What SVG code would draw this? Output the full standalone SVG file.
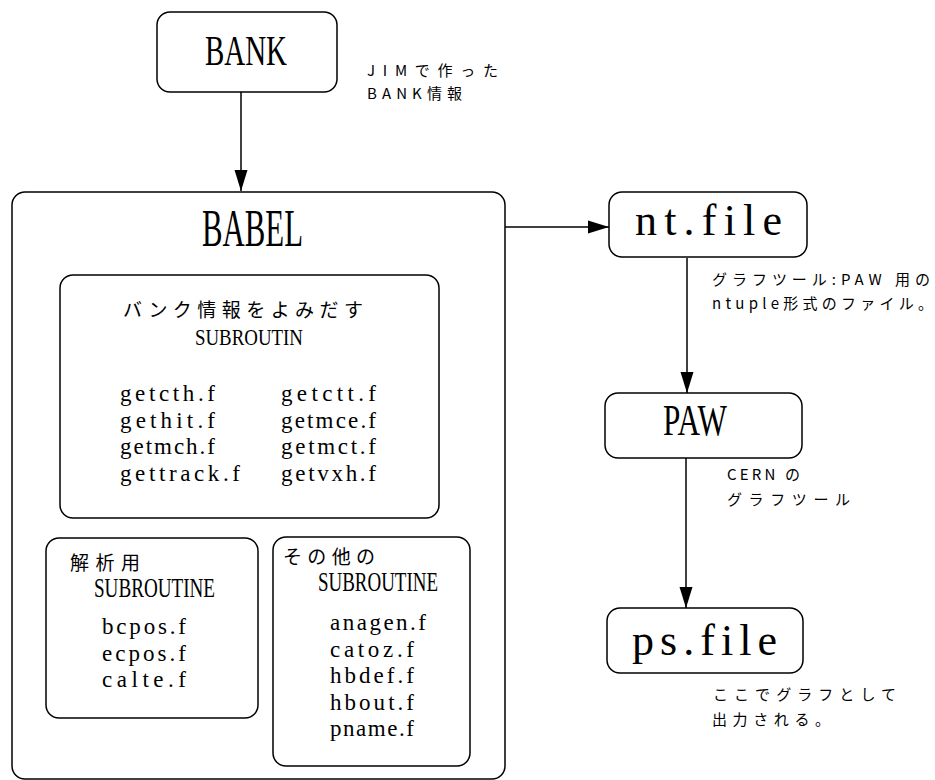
<svg xmlns="http://www.w3.org/2000/svg" width="935" height="780" viewBox="0 0 935 780">
<style>
.box{fill:#fff;stroke:#000;stroke-width:1.5}
.big{font-family:"Liberation Serif","Noto Serif CJK JP",serif;fill:#000}
.jp{font-family:"Noto Sans CJK JP","Noto Sans",sans-serif;font-size:15px;fill:#000}
.jpm{font-family:"Noto Sans CJK JP","Noto Sans",sans-serif;font-size:19px;fill:#000}
.cap{font-family:"Liberation Serif",serif;fill:#000}
.mono{font-family:"Liberation Serif",serif;font-size:23px;fill:#000}
.conn{stroke:#000;stroke-width:1.5;fill:none}
</style>
<defs>
<marker id="arr" markerUnits="userSpaceOnUse" markerWidth="22" markerHeight="14" refX="21" refY="7" orient="auto">
<path d="M0,0.5 L21,7 L0,13.5 z" fill="#000"/>
</marker>
</defs>
<rect width="935" height="780" fill="#fff"/>
<g id="connectors">
<line class="conn" x1="241" y1="92" x2="241" y2="191" marker-end="url(#arr)"/>
<line class="conn" x1="505" y1="227" x2="609" y2="227" marker-end="url(#arr)"/>
<line class="conn" x1="687" y1="258" x2="687" y2="393" marker-end="url(#arr)"/>
<line class="conn" x1="686" y1="458" x2="686" y2="608" marker-end="url(#arr)"/>
</g>
<g id="bank">
<rect class="box" x="157" y="12" width="180" height="80" rx="13"/>
<text class="big" x="205" y="65" font-size="42" textLength="82" lengthAdjust="spacingAndGlyphs">BANK</text>
</g>
<g id="bank-note">
<text class="jp" x="367" y="76" textLength="131">JIMで作った</text>
<text class="jp" x="367" y="99" textLength="95">BANK情報</text>
</g>
<g id="babel">
<rect class="box" x="12" y="192" width="493" height="587" rx="13"/>
<text class="big" x="202" y="246" font-size="52" textLength="101" lengthAdjust="spacingAndGlyphs">BABEL</text>
</g>
<g id="read-subroutines">
<rect class="box" x="60" y="275" width="379" height="243" rx="13"/>
<text class="jpm" x="123" y="317" textLength="240">バンク情報をよみだす</text>
<text class="cap" x="195" y="345" font-size="23" textLength="108" lengthAdjust="spacingAndGlyphs">SUBROUTIN</text>
<text class="mono" x="120" y="401" textLength="95">getcth.f</text>
<text class="mono" x="120" y="427.5" textLength="95">gethit.f</text>
<text class="mono" x="120" y="454" textLength="95">getmch.f</text>
<text class="mono" x="120" y="480.5" textLength="120">gettrack.f</text>
<text class="mono" x="281" y="401" textLength="95">getctt.f</text>
<text class="mono" x="281" y="427.5" textLength="95">getmce.f</text>
<text class="mono" x="281" y="454" textLength="95">getmct.f</text>
<text class="mono" x="281" y="480.5" textLength="95">getvxh.f</text>
</g>
<g id="analysis-subroutines">
<rect class="box" x="46" y="538" width="212" height="180" rx="13"/>
<text class="jpm" x="70" y="570" textLength="70">解析用</text>
<text class="cap" x="94" y="597" font-size="27" textLength="121" lengthAdjust="spacingAndGlyphs">SUBROUTINE</text>
<text class="mono" x="102" y="634" textLength="84">bcpos.f</text>
<text class="mono" x="102" y="660.5" textLength="84">ecpos.f</text>
<text class="mono" x="102" y="687" textLength="84">calte.f</text>
</g>
<g id="other-subroutines">
<rect class="box" x="273" y="537" width="197" height="229" rx="13"/>
<text class="jpm" x="283" y="564" textLength="92">その他の</text>
<text class="cap" x="318" y="591" font-size="27" textLength="120" lengthAdjust="spacingAndGlyphs">SUBROUTINE</text>
<text class="mono" x="330" y="630" textLength="96">anagen.f</text>
<text class="mono" x="330" y="656.5" textLength="84">catoz.f</text>
<text class="mono" x="330" y="683" textLength="84">hbdef.f</text>
<text class="mono" x="330" y="709.5" textLength="84">hbout.f</text>
<text class="mono" x="330" y="736" textLength="84">pname.f</text>
</g>
<g id="ntfile">
<rect class="box" x="609" y="192" width="198" height="65" rx="13"/>
<text class="big" x="635" y="235" font-size="44" textLength="147">nt.file</text>
</g>
<g id="ntfile-note">
<text class="jp" x="712" y="285" textLength="218">グラフツール:PAW 用の</text>
<text class="jp" x="712" y="309" textLength="221">ntuple形式のファイル。</text>
</g>
<g id="paw">
<rect class="box" x="605" y="393" width="197" height="65" rx="13"/>
<text class="big" x="663" y="435" font-size="44" textLength="64" lengthAdjust="spacingAndGlyphs">PAW</text>
</g>
<g id="paw-note">
<text class="jp" x="727" y="480" textLength="73">CERN の</text>
<text class="jp" x="727" y="505" textLength="123">グラフツール</text>
</g>
<g id="psfile">
<rect class="box" x="607" y="608" width="196" height="65" rx="13"/>
<text class="big" x="632" y="655" font-size="44" textLength="145">ps.file</text>
</g>
<g id="psfile-note">
<text class="jp" x="713" y="700" textLength="183">ここでグラフとして</text>
<text class="jp" x="712" y="725" textLength="118">出力される。</text>
</g>
</svg>
